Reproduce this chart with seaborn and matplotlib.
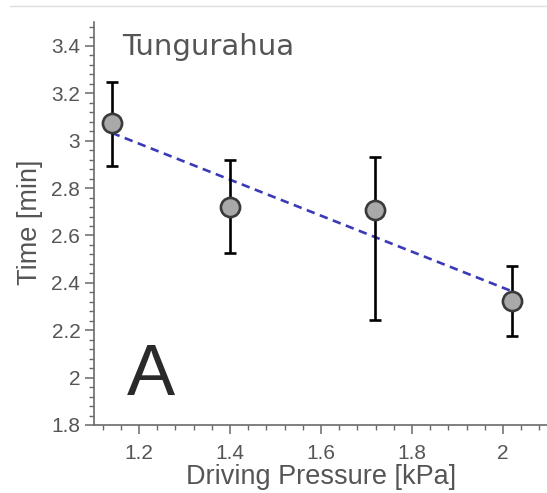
import matplotlib
matplotlib.use("Agg")
import matplotlib.pyplot as plt
from matplotlib.lines import Line2D
from matplotlib.ticker import MultipleLocator, FuncFormatter
import numpy as np
import pandas as pd
import seaborn as sns

# ---- data ----
pressure = [1.14, 1.40, 1.718, 2.019]          # Driving Pressure [kPa]
time_min = [3.075, 2.721, 2.708, 2.324]        # Time [min]
err_low = [2.894, 2.527, 2.244, 2.176]         # lower end of error bar
err_high = [3.248, 2.919, 2.932, 2.472]        # upper end of error bar
site_name = "Tungurahua"
panel_letter = "A"
x_label = "Driving Pressure [kPa]"
y_label = "Time [min]"

df = pd.DataFrame({"pressure": pressure, "time": time_min})
yerr = np.array([np.array(time_min) - np.array(err_low),
                 np.array(err_high) - np.array(time_min)])

sns.set_style("ticks")
plt.rcParams["font.family"] = ["Liberation Sans", "DejaVu Sans"]

W, H = 547, 493
fig = plt.figure(figsize=(W / 100, H / 100), dpi=100)
ax = fig.add_axes([93.5 / W, 1 - 425 / H, 455 / W, (425 - 22.3) / H])

spine_col = "#6a6a6a"
text_col = "#555555"

# regression line (least squares via seaborn)
sns.regplot(data=df, x="pressure", y="time", ax=ax, scatter=False, ci=None,
            line_kws=dict(color="#3a3ab8", lw=1.9, dashes=(3.2, 2.1), zorder=2))

# error bars
ax.errorbar(pressure, time_min, yerr=yerr, fmt="none", ecolor="black",
            elinewidth=1.9, capsize=4.0, capthick=1.9, zorder=3)

# points
sns.scatterplot(data=df, x="pressure", y="time", ax=ax, s=190,
                color="#a9a9a9", edgecolor="#3a3a3a", linewidth=1.9, zorder=4)

ax.set_xlim(1.1, 2.1)
ax.set_ylim(1.8, 3.5)

ax.xaxis.set_major_locator(MultipleLocator(0.2))
ax.xaxis.set_minor_locator(MultipleLocator(0.04))
ax.yaxis.set_major_locator(MultipleLocator(0.2))
ax.yaxis.set_minor_locator(MultipleLocator(0.04))

def fmt(v, pos):
    s = f"{v:.1f}"
    if s.endswith(".0"):
        s = s[:-2]
    return s

ax.xaxis.set_major_formatter(FuncFormatter(fmt))
ax.yaxis.set_major_formatter(FuncFormatter(fmt))

ax.tick_params(which="major", length=6.5, width=1.1, color=spine_col,
               labelsize=15, labelcolor=text_col, pad=3)
ax.tick_params(axis="x", which="major", pad=7)
ax.tick_params(which="minor", length=3.8, width=1.0, color=spine_col)

for side in ["top", "right"]:
    ax.spines[side].set_visible(False)
for side in ["left", "bottom"]:
    ax.spines[side].set_color(spine_col)
    ax.spines[side].set_linewidth(1.2)

ax.set_xlabel(x_label, fontsize=19.5, color=text_col)
ax.set_ylabel(y_label, fontsize=19.5, color=text_col)
ax.xaxis.set_label_coords(0.5, -0.098)
ax.yaxis.set_label_coords(-0.112, 0.504)

ax.text((122 - 93.5) / 455, 1 - (55 - 22.3) / 402.7, site_name,
        transform=ax.transAxes, fontsize=21, color=text_col,
        family="DejaVu Sans", ha="left", va="baseline")
ax.text((127 - 93.5) / 455, (425 - 395) / 402.7, panel_letter,
        transform=ax.transAxes, fontsize=52, color="#2a2a2a",
        ha="left", va="baseline")

# thin frame line at the top of the figure
fig.add_artist(Line2D([10 / W, 1.0], [1 - 6 / H, 1 - 6 / H],
                      transform=fig.transFigure, color="#dddddd", lw=1.0))

fig.savefig("out.png", dpi=100)
